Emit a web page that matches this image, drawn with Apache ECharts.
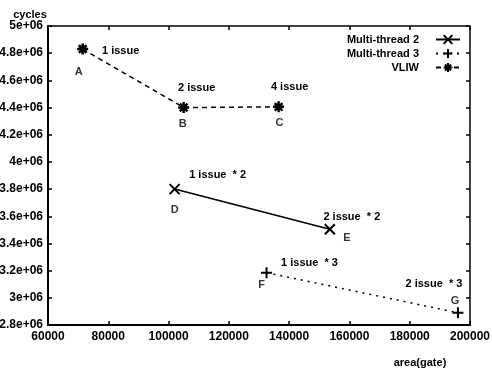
<!DOCTYPE html>
<html>
<head>
<meta charset="utf-8">
<script src="https://cdn.jsdelivr.net/npm/echarts@6/dist/echarts.min.js"></script>
<style>
  html, body { margin: 0; padding: 0; background: #fff; }
  #chart { width: 492px; height: 370px; }
</style>
</head>
<body>
<div id="chart"></div>
<script>
// data
const mt2X = [102000, 153500];
const mt2Y = [3800000, 3505000];
const mt2Letters = ["D", "E"];
const mt2Issue = ["1 issue  * 2", "2 issue  * 2"];

const mt3X = [132500, 196000];
const mt3Y = [3185000, 2890000];
const mt3Letters = ["F", "G"];
const mt3Issue = ["1 issue  * 3", "2 issue  * 3"];

const vliwX = [71500, 105000, 136500];
const vliwY = [4830000, 4400000, 4405000];
const vliwLetters = ["A", "B", "C"];
const vliwIssue = ["1 issue", "2 issue", "4 issue"];

const seriesNames = ["Multi-thread 2", "Multi-thread 3", "VLIW"];

// label offsets (px, from point centre)
const issueOffsets = {
  A: [38, 2], B: [13, -20], C: [11, -20],
  D: [43, -14], E: [22, -12], F: [43, -10], G: [-24, -29]
};
const letterOffsets = {
  A: [-4, 23], B: [-1, 16], C: [1, 16],
  D: [0, 21], E: [17, 9], F: [-5, 12], G: [-3, -12]
};

const FONT = "'Liberation Sans', Arial, sans-serif";
const sym = {
  cross: "path://M0,0L10,10M10,0L0,10",
  plus: "path://M5,0L5,10M0,5L10,5",
  star: "path://M5,0L5,10M0,5L10,5M1.5,1.5L8.5,8.5M8.5,1.5L1.5,8.5"
};

function sciFmt(v) {
  if (v === 0) return "0";
  const e = Math.floor(Math.log10(Math.abs(v)) + 1e-9);
  const m = +(v / Math.pow(10, e)).toFixed(4);
  return m + "e+" + (e < 10 ? "0" + e : e);
}

function lineData(xs, ys, letters, issues) {
  return xs.map((x, i) => ({
    value: [x, ys[i]],
    label: {
      show: true,
      position: "inside",
      align: "center",
      verticalAlign: "middle",
      offset: issueOffsets[letters[i]],
      formatter: issues[i]
    }
  }));
}
function letterData(xs, ys, letters) {
  return xs.map((x, i) => ({
    value: [x, ys[i]],
    label: {
      show: true,
      position: "inside",
      align: "center",
      verticalAlign: "middle",
      offset: letterOffsets[letters[i]],
      formatter: letters[i]
    }
  }));
}

const labelStyle = { color: "#000", fontFamily: FONT, fontSize: 11, fontWeight: "bold" };

function lineSeries(name, xs, ys, letters, issues, symbol, lineType, symSize, symWidth) {
  return {
    name: name,
    type: "line",
    data: lineData(xs, ys, letters, issues),
    symbol: symbol,
    symbolSize: symSize,
    showAllSymbol: true,
    lineStyle: { color: "#000", width: 1.5, type: lineType },
    itemStyle: { color: "#000", borderColor: "#000", borderWidth: symWidth },
    label: labelStyle,
    emphasis: { disabled: true },
    animation: false,
    z: 3
  };
}
function letterSeries(xs, ys, letters) {
  return {
    name: "letters",
    type: "scatter",
    data: letterData(xs, ys, letters),
    symbolSize: 0,
    label: labelStyle,
    silent: true,
    animation: false
  };
}

function legendFor(name, top) {
  return {
    data: [name],
    right: 26,
    top: top,
    orient: "vertical",
    align: "right",
    itemWidth: 24,
    itemHeight: 11,
    selectedMode: false,
    textStyle: { color: "#000", fontFamily: FONT, fontSize: 11, fontWeight: "bold", padding: [0, 12, 0, 0] }
  };
}

const axisText = { color: "#000", fontFamily: FONT, fontSize: 12, fontWeight: "bold" };

const chart = echarts.init(document.getElementById("chart"), null, { renderer: "canvas" });
chart.setOption({
  backgroundColor: "#fff",
  animation: false,
  grid: { left: 48, right: 22, top: 26, bottom: 45, outerBoundsMode: "none", containLabel: false },
  legend: [
    legendFor(seriesNames[0], 29),
    legendFor(seriesNames[1], 43),
    legendFor(seriesNames[2], 57)
  ],
  xAxis: [
    {
      type: "value", min: 60000, max: 200000, interval: 20000,
      name: "area(gate)", nameLocation: "end", nameGap: -50,
      nameTextStyle: Object.assign({ align: "center", verticalAlign: "top", padding: [32, 0, 0, 0] }, axisText, { fontSize: 11 }),
      axisLine: { show: true, lineStyle: { color: "#000", width: 2 } },
      axisTick: { show: true, inside: true, length: 4, lineStyle: { color: "#000", width: 1.5 } },
      axisLabel: Object.assign({ margin: 6, formatter: (v) => String(v) }, axisText),
      splitLine: { show: false }
    },
    {
      type: "value", min: 60000, max: 200000, interval: 20000, position: "top",
      axisLine: { show: true, lineStyle: { color: "#000", width: 1.5 } },
      axisTick: { show: true, inside: true, length: 4, lineStyle: { color: "#000", width: 1.5 } },
      axisLabel: { show: false },
      splitLine: { show: false }
    }
  ],
  yAxis: [
    {
      type: "value", min: 2800000, max: 5000000, interval: 200000,
      name: "cycles", nameLocation: "end", nameGap: 6,
      nameTextStyle: Object.assign({ align: "center", padding: [0, 36, 0, 0] }, axisText, { fontSize: 11 }),
      axisLine: { show: true, lineStyle: { color: "#000", width: 2 } },
      axisTick: { show: true, inside: true, length: 4, lineStyle: { color: "#000", width: 1.5 } },
      axisLabel: Object.assign({ margin: 5, formatter: sciFmt }, axisText),
      splitLine: { show: false }
    },
    {
      type: "value", min: 2800000, max: 5000000, interval: 200000, position: "right",
      axisLine: { show: true, lineStyle: { color: "#000", width: 1.5 } },
      axisTick: { show: true, inside: true, length: 4, lineStyle: { color: "#000", width: 1.5 } },
      axisLabel: { show: false },
      splitLine: { show: false }
    }
  ],
  series: [
    lineSeries(seriesNames[0], mt2X, mt2Y, mt2Letters, mt2Issue, sym.cross, "solid", 10, 2),
    lineSeries(seriesNames[1], mt3X, mt3Y, mt3Letters, mt3Issue, sym.plus, [2, 5], 11, 2),
    lineSeries(seriesNames[2], vliwX, vliwY, vliwLetters, vliwIssue, sym.star, [5, 4], 11, 2.5),
    letterSeries(mt2X, mt2Y, mt2Letters),
    letterSeries(mt3X, mt3Y, mt3Letters),
    letterSeries(vliwX, vliwY, vliwLetters)
  ]
});
</script>
</body>
</html>
